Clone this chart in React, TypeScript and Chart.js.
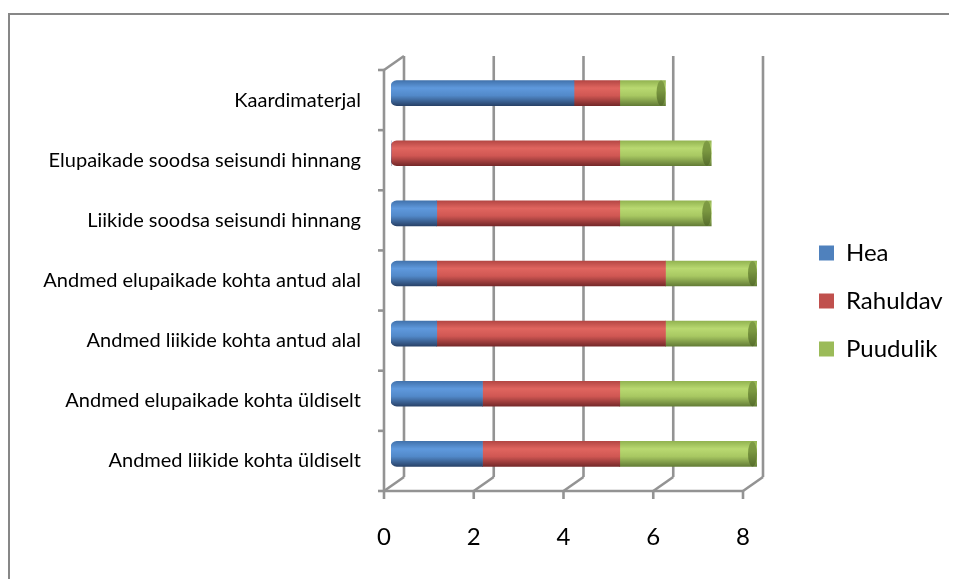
import React, { useEffect, useRef } from "react";
import { Chart, registerables } from "chart.js";

Chart.register(...registerables);

const categories = [
  "Kaardimaterjal",
  "Elupaikade soodsa seisundi hinnang",
  "Liikide soodsa seisundi hinnang",
  "Andmed elupaikade kohta antud alal",
  "Andmed liikide kohta antud alal",
  "Andmed elupaikade kohta üldiselt",
  "Andmed liikide kohta üldiselt",
];
const hea = [4, 0, 1, 1, 1, 2, 2];
const rahuldav = [1, 5, 4, 5, 5, 3, 3];
const puudulik = [1, 2, 2, 2, 2, 3, 3];
const xTicks = [0, 2, 4, 6, 8];
const seriesNames = ["Hea", "Rahuldav", "Puudulik"];
const legendColors = ["#4F81BD", "#C0504D", "#9BBB59"];
const shades = [
  ["#4273ad", "#5f99dd", "#5289c9", "#29436a"],
  ["#b44744", "#e0655f", "#d05753", "#76292a"],
  ["#93b451", "#b9d971", "#a8c862", "#647d37"],
];

const BAR = 25;
const FONT = "Lato, 'Open Sans', sans-serif";

const makeFill = (si: number) => (ctx: any) => {
  const chart = ctx.chart;
  const ys = chart.scales && chart.scales.y;
  if (!ys || ctx.type !== "data") return legendColors[si];
  const yc = ys.getPixelForValue(ctx.dataIndex);
  const g = chart.ctx.createLinearGradient(0, yc - BAR / 2, 0, yc + BAR / 2);
  const s = shades[si];
  g.addColorStop(0, s[0]);
  g.addColorStop(0.3, s[1]);
  g.addColorStop(0.6, s[2]);
  g.addColorStop(1, s[3]);
  return g;
};

const series = [hea, rahuldav, puudulik];

const makeRadius = (si: number) => (ctx: any) => {
  let before = 0;
  for (let k = 0; k < si; k++) before += series[k][ctx.dataIndex] || 0;
  const r = before === 0 ? 6 : 0;
  return { topLeft: r, bottomLeft: r, topRight: 0, bottomRight: 0 };
};

const frame3d = {
  id: "frame3d",
  beforeDatasetsDraw(chart: any) {
    const x2 = chart.scales.x2;
    const ys = chart.scales.y;
    const c = chart.ctx;
    const FY = 7;
    const DX = 20;
    const DY = -14;
    const fTop = ys.getPixelForValue(-0.5) + FY;
    const fBot = ys.getPixelForValue(categories.length - 0.5) + FY;
    const line = (a: number, b: number, d: number, e: number) => {
      c.beginPath();
      c.moveTo(a, b);
      c.lineTo(d, e);
      c.stroke();
    };
    c.save();
    c.strokeStyle = "#939393";
    c.lineWidth = 2.6;
    xTicks.forEach((v) => {
      const fx = x2.getPixelForValue(v);
      line(fx + DX, fTop + DY, fx + DX, fBot + DY);
      line(fx + DX, fBot + DY, fx, fBot);
      line(fx, fBot, fx, fBot + 8);
    });
    const x0 = x2.getPixelForValue(xTicks[0]);
    const xn = x2.getPixelForValue(xTicks[xTicks.length - 1]);
    line(x0, fBot, xn, fBot);
    line(x0, fTop, x0, fBot);
    line(x0, fTop, x0 + DX, fTop + DY);
    for (let k = 0; k <= categories.length; k++) {
      const y = ys.getPixelForValue(k - 0.5) + FY;
      line(x0 - 6, y, x0, y);
    }
    c.restore();
  },
  afterDatasetsDraw(chart: any) {
    const meta = chart.getDatasetMeta(2);
    const c = chart.ctx;
    c.save();
    meta.data.forEach((el: any) => {
      const p = el.getProps(["x", "y", "height", "base"], true);
      if (!p.height || Math.abs(p.x - p.base) < 1) return;
      const rx = 4.5;
      const g = c.createLinearGradient(0, p.y - p.height / 2, 0, p.y + p.height / 2);
      g.addColorStop(0, "#7f9c45");
      g.addColorStop(0.4, "#7a9740");
      g.addColorStop(1, "#566d2c");
      c.beginPath();
      c.ellipse(p.x - rx, p.y, rx, p.height / 2, 0, 0, Math.PI * 2);
      c.fillStyle = g;
      c.fill();
    });
    c.restore();
  },
};

const legendWidth = {
  id: "legendWidth",
  beforeLayout(chart: any) {
    const lg = chart.legend;
    if (lg && !lg.__patched) {
      const orig = lg.fit.bind(lg);
      lg.fit = () => {
        orig();
        lg.width = 162;
      };
      lg.__patched = true;
    }
  },
};

export default function App() {
  const ref = useRef<HTMLCanvasElement>(null);
  useEffect(() => {
    document.documentElement.style.overflow = "hidden";
    document.body.style.overflow = "hidden";
    const datasets = series.map((data, i) => ({
      label: seriesNames[i],
      data,
      xAxisID: "x",
      yAxisID: "y",
      backgroundColor: makeFill(i),
      borderWidth: 0,
      borderSkipped: false,
      borderRadius: makeRadius(i),
      barThickness: BAR,
    }));
    const chart = new Chart(ref.current as HTMLCanvasElement, {
      type: "bar",
      data: { labels: categories, datasets },
      plugins: [frame3d, legendWidth],
      options: {
        indexAxis: "y",
        animation: false,
        responsive: false,
        devicePixelRatio: 1,
        layout: { padding: { top: 8, bottom: 0, left: 0, right: 0 } },
        plugins: {
          tooltip: { enabled: false },
          legend: {
            position: "right",
            align: "center",
            labels: {
              boxWidth: 15,
              boxHeight: 15,
              padding: 24,
              color: "#000",
              font: { family: FONT, size: 24 },
              generateLabels: () =>
                seriesNames.map((n, i) => ({
                  text: n,
                  fillStyle: legendColors[i],
                  strokeStyle: legendColors[i],
                  lineWidth: 0,
                  hidden: false,
                  datasetIndex: i,
                  fontColor: "#000",
                })),
            },
          },
        },
        scales: {
          x: { type: "linear", stacked: true, min: 0, max: 8, display: false },
          x2: {
            type: "linear",
            position: "bottom",
            min: 0.156,
            max: 8.312,
            grid: { display: false, drawTicks: false },
            border: { display: false },
            afterBuildTicks: (s: any) => {
              s.ticks = xTicks.map((v) => ({ value: v }));
            },
            ticks: {
              padding: 39,
              color: "#000",
              font: { family: FONT, size: 24 },
              maxRotation: 0,
              autoSkip: false,
            },
            afterFit: (s: any) => {
              s.height = 95;
            },
          },
          spacerTop: {
            type: "linear",
            position: "top",
            grid: { display: false, drawTicks: false },
            border: { display: false },
            ticks: { display: false },
            afterFit: (s: any) => {
              s.height = 40;
            },
          },
          y: {
            type: "category",
            stacked: true,
            grid: { display: false, drawTicks: false },
            border: { display: false },
            ticks: {
              padding: 30,
              labelOffset: 7,
              color: "#000",
              autoSkip: false,
              font: { family: FONT, size: 20 },
            },
            afterFit: (s: any) => {
              s.width = 381;
            },
          },
          spacer: {
            type: "linear",
            position: "right",
            grid: { display: false, drawTicks: false },
            border: { display: false },
            ticks: { display: false },
            afterFit: (s: any) => {
              s.width = 38;
            },
          },
        },
      } as any,
    });
    return () => chart.destroy();
  }, []);
  return (
    <div style={{ paddingTop: 5 }}>
      <div
        style={{
          borderTop: "2px solid #878787",
          borderLeft: "2px solid #878787",
          width: 947,
          height: 564,
          background: "#fff",
        }}
      >
        <canvas
          ref={ref}
          width={947}
          height={564}
          style={{ display: "block", width: 947, height: 564 }}
        />
      </div>
    </div>
  );
}
